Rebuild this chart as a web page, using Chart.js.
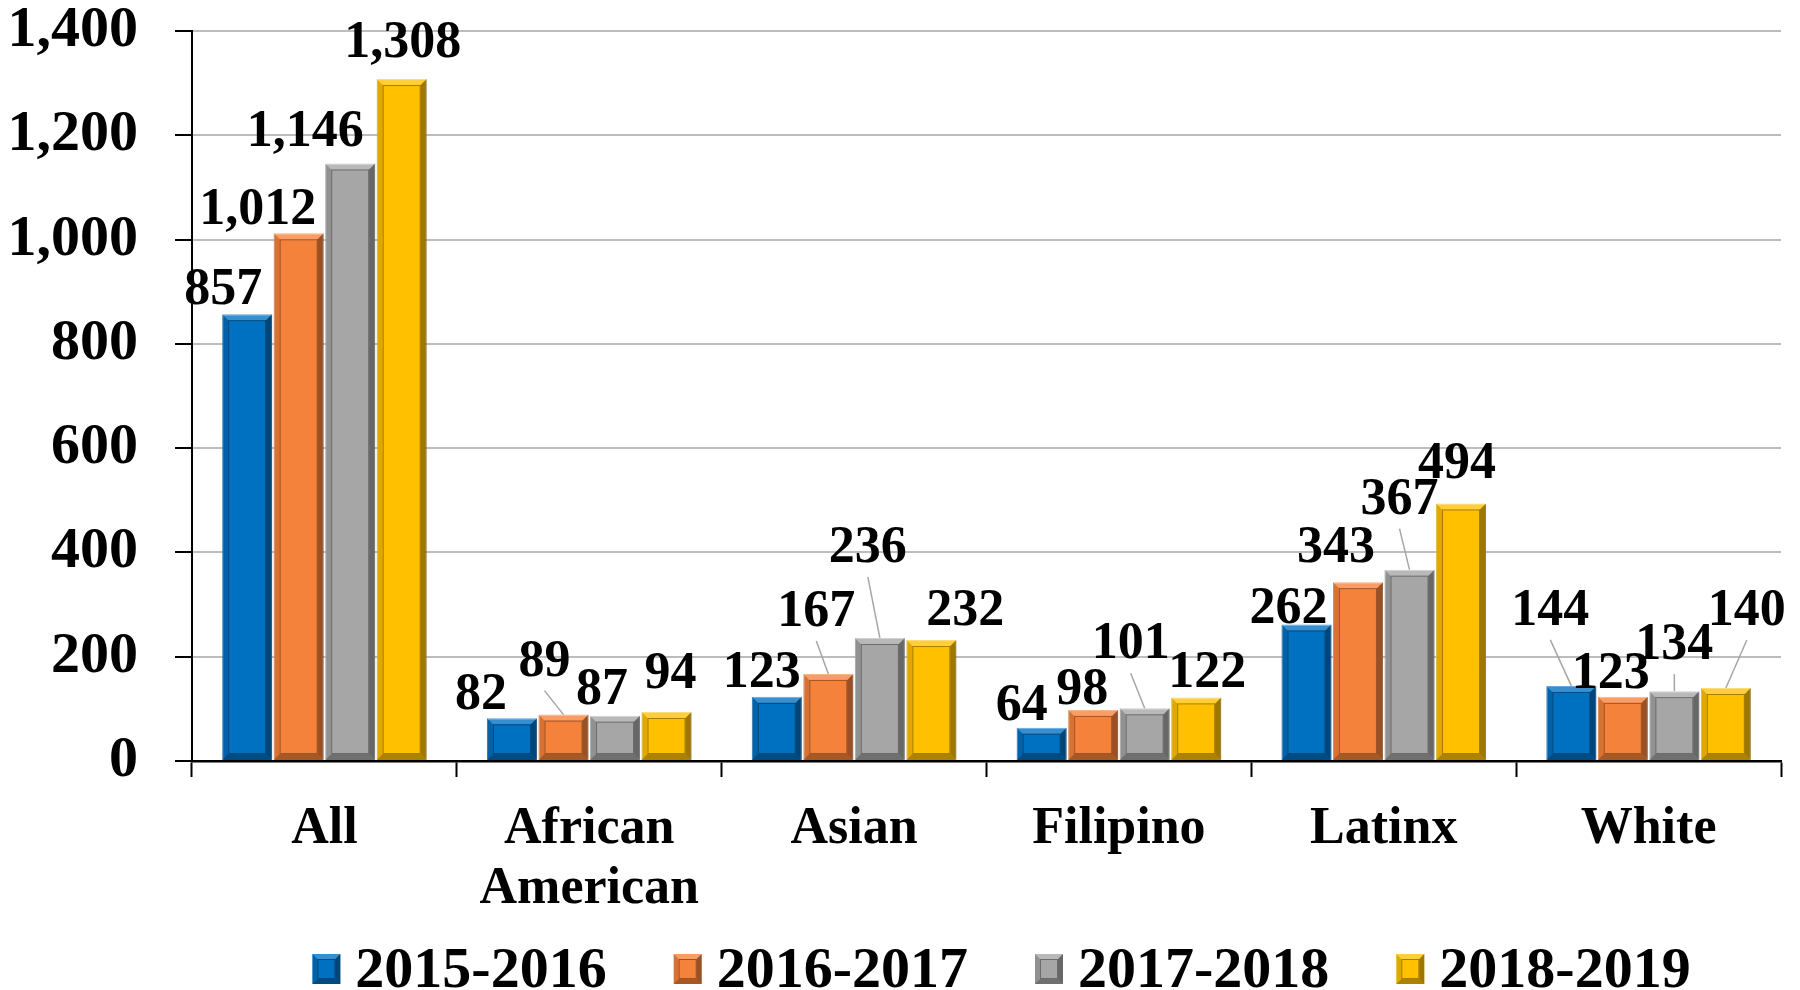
<!DOCTYPE html>
<html>
<head>
<meta charset="utf-8">
<script src="https://cdn.jsdelivr.net/npm/chart.js@4.4.0/dist/chart.umd.min.js"></script>
<style>
  html, body { margin: 0; padding: 0; background: #fff; }
  canvas { display: block; }
</style>
</head>
<body>
<canvas id="grpchart" width="1800" height="990"></canvas>
<script>
const categories = ["All", ["African", "American"], "Asian", "Filipino", "Latinx", "White"];
const years = ["2015-2016", "2016-2017", "2017-2018", "2018-2019"];
const y2015 = [857, 82, 123, 64, 262, 144];
const y2016 = [1012, 89, 167, 98, 343, 123];
const y2017 = [1146, 87, 236, 101, 367, 134];
const y2018 = [1308, 94, 232, 122, 494, 140];
const yTicks = [0, 200, 400, 600, 800, 1000, 1200, 1400];

const fills = ["#0070C0", "#F5823A", "#A6A6A6", "#FFC000"];
const edges = ["#3A8FD6", "#F9A060", "#C4C4C4", "#FFD24D"];
const FONT = "'Liberation Serif', 'Times New Roman', serif";

// label nudges in px from the bar's top centre, as hand placed in the original
const labelNudge = [
  [[-24, -28], [-31, -27], [-15, -28], [-20, -26], [-18, -19], [-21, -79]],
  [[-41, -27], [-19, -57], [-12, -66], [-11, -24], [-22, -38], [-12, -27]],
  [[-45, -35], [-13, -30], [-12, -94], [-14, -68], [-10, -74], [0, -50]],
  [[1, -40], [4, -42], [34, -33], [11, -28], [-4, -43], [21, -81]],
];

function bevel(ctx, l, t, r, b, d) {
  const poly = (pts, c) => {
    ctx.beginPath();
    ctx.moveTo(pts[0][0], pts[0][1]);
    for (let i = 1; i < pts.length; i++) ctx.lineTo(pts[i][0], pts[i][1]);
    ctx.closePath();
    ctx.fillStyle = c;
    ctx.fill();
  };
  poly([[l, t], [r, t], [r - d, t + d], [l + d, t + d]], "rgba(255,255,255,0.22)");
  poly([[r, t], [r, b], [r - d, b - d], [r - d, t + d]], "rgba(0,0,0,0.38)");
  poly([[l, b], [r, b], [r - d, b - d], [l + d, b - d]], "rgba(0,0,0,0.32)");
  poly([[l, t], [l, b], [l + d, b - d], [l + d, t + d]], "rgba(0,0,0,0.12)");
  ctx.strokeStyle = "rgba(0,0,0,0.35)";
  ctx.lineWidth = 1;
  ctx.strokeRect(l + d + 0.5, t + d + 0.5, r - l - 2 * d - 1, b - t - 2 * d - 1);
}

const barLook = {
  id: "barLook",
  afterDatasetsDraw(chart) {
    const ctx = chart.ctx;
    ctx.save();
    chart.data.datasets.forEach((ds, i) => {
      chart.getDatasetMeta(i).data.forEach(bar => {
        const p = bar.getProps(["x", "y", "base", "width"], true);
        const l = p.x - p.width / 2, r = p.x + p.width / 2;
        bevel(ctx, l, p.y, r, p.base, 6);
      });
    });
    ctx.restore();
  },
};

const valueLabels = {
  id: "valueLabels",
  afterDatasetsDraw(chart) {
    const ctx = chart.ctx;
    ctx.save();
    ctx.font = "bold 52px " + FONT;
    ctx.textAlign = "center";
    ctx.textBaseline = "alphabetic";
    chart.data.datasets.forEach((ds, i) => {
      chart.getDatasetMeta(i).data.forEach((bar, j) => {
        const p = bar.getProps(["x", "y"], true);
        const n = labelNudge[i][j];
        const cx = p.x + n[0], cy = p.y + n[1];
        if (-n[1] > 46) {
          ctx.strokeStyle = "#A6A6A6";
          ctx.lineWidth = 1.5;
          ctx.beginPath();
          ctx.moveTo(cx, cy + 33);
          ctx.lineTo(p.x, p.y);
          ctx.stroke();
        }
        ctx.fillStyle = "#000";
        ctx.fillText(ds.data[j].toLocaleString("en-US"), cx, cy + 18);
      });
    });
    ctx.restore();
  },
};

const bottomLegend = {
  id: "bottomLegend",
  afterDraw(chart) {
    const ctx = chart.ctx;
    ctx.save();
    ctx.font = "bold 58px " + FONT;
    const boxW = 28, boxH = 30, gap = 15, spacing = 67;
    const items = chart.data.datasets.map(ds => ({
      text: ds.label,
      w: boxW + gap + ctx.measureText(ds.label).width,
    }));
    const total = items.reduce((s, it) => s + it.w, 0) + spacing * (items.length - 1);
    const mid = (chart.chartArea.left + chart.chartArea.right) / 2 + 15;
    let x = mid - total / 2;
    const boxTop = chart.height - 36;
    items.forEach((it, i) => {
      ctx.fillStyle = fills[i];
      ctx.fillRect(x, boxTop, boxW, boxH);
      bevel(ctx, x, boxTop, x + boxW, boxTop + boxH, 5);
      ctx.fillStyle = "#000";
      ctx.textAlign = "left";
      ctx.textBaseline = "alphabetic";
      ctx.fillText(it.text, x + boxW + gap, boxTop + 33);
      x += it.w + spacing;
    });
    ctx.restore();
  },
};

const grpc = document.getElementById("grpchart").getContext("2d");
const grpchart = new Chart(grpc, {
  type: "bar",
  data: {
    labels: categories,
    datasets: [y2015, y2016, y2017, y2018].map((vals, i) => ({
      label: years[i],
      data: vals,
      backgroundColor: fills[i],
      borderColor: edges[i],
      borderWidth: 1,
      categoryPercentage: 0.778,
      barPercentage: 0.97,
    })),
  },
  options: {
    responsive: false,
    animation: false,
    layout: { padding: { top: 31, right: 19, bottom: 76, left: 0 } },
    plugins: {
      legend: { display: false },
      tooltip: { enabled: false },
    },
    scales: {
      x: {
        afterFit: s => { s.height = 153; s.paddingLeft = 0; s.paddingRight = 0; },
        grid: { drawOnChartArea: false, drawTicks: true, tickLength: 16, tickColor: "#000", tickWidth: 2, offset: true },
        border: { color: "#000", width: 2.5 },
        ticks: {
          color: "#000",
          font: { family: FONT, size: 52, weight: "bold", lineHeight: 1.15 },
          padding: 23,
          maxRotation: 0,
          autoSkip: false,
        },
      },
      y: {
        min: 0,
        max: 1400,
        afterFit: s => { s.width = 192; s.paddingTop = 0; s.paddingBottom = 0; },
        afterBuildTicks: s => { s.ticks = yTicks.map(v => ({ value: v })); },
        grid: { color: "#BDBDBD", lineWidth: 2, tickLength: 17, tickColor: "#000", tickWidth: 2 },
        border: { color: "#000", width: 2 },
        ticks: {
          color: "#000",
          font: { family: FONT, size: 58, weight: "bold" },
          padding: 37,
          callback: v => v.toLocaleString("en-US"),
        },
      },
    },
  },
  plugins: [barLook, valueLabels, bottomLegend],
});
</script>
</body>
</html>
